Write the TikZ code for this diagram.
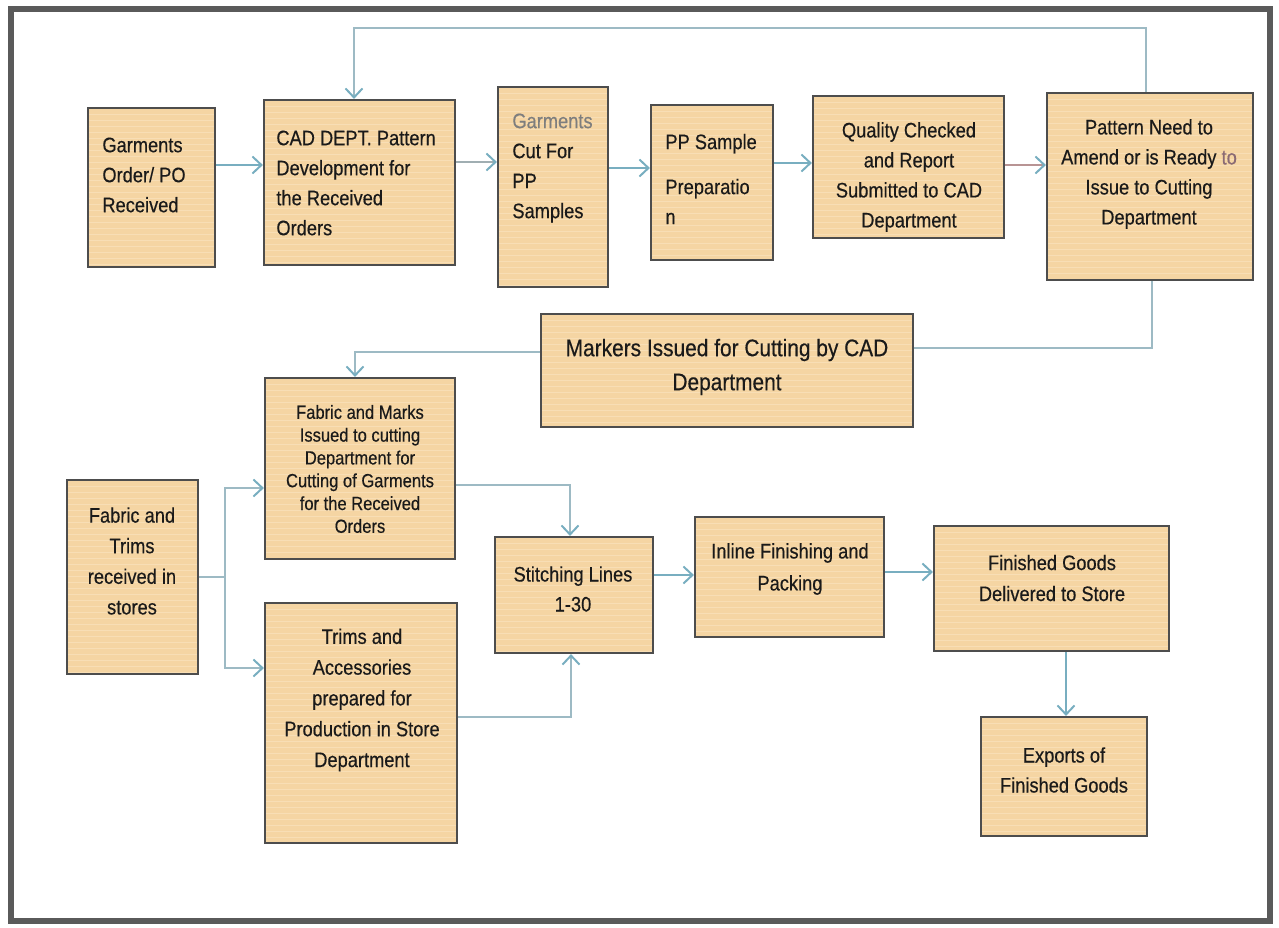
\documentclass[tikz,border=0pt]{standalone}
\usepackage{fontspec}
\setmainfont{Liberation Sans}[FakeStretch=0.87,FakeBold=0.4]
\usetikzlibrary{arrows.meta,fit}
\definecolor{boxfill}{HTML}{F5D5A3}
\definecolor{stripec}{HTML}{F8DEB5}
\definecolor{boxline}{HTML}{4D4D4D}
\definecolor{arrowc}{HTML}{78AEC0}
\definecolor{thinc}{HTML}{9DBAC4}
\definecolor{redline}{HTML}{B89494}
\definecolor{grayline}{HTML}{A0AEB2}
\definecolor{framec}{HTML}{5A5A5A}
\definecolor{txtc}{HTML}{1A1A1A}
\definecolor{toc}{HTML}{8A6A74}
\definecolor{lightgray}{HTML}{7E7E7E}
\begin{document}
\begin{tikzpicture}[x=0.5pt,y=-0.5pt,
  box/.style={draw=boxline, line width=1.1pt, fill=boxfill, inner sep=0pt,
    path picture={\foreach \k in {0,2,...,160}{\draw[stripec, line width=0.3pt]
      ([yshift=-\k*1.5pt]path picture bounding box.north west) -- ([yshift=-\k*1.5pt]path picture bounding box.north east);}}},
  txt/.style={inner sep=0pt, text=txtc, font=\fontsize{10.5}{15}\selectfont},
  arr/.style={draw=arrowc, line width=1pt, -{Straight Barb[length=4.5pt,width=8.5pt,color=arrowc]}},
  thinline/.style={draw=thinc, line width=0.6pt},
  thinarr/.style={draw=thinc, line width=0.6pt, -{Straight Barb[length=4.5pt,width=8.5pt,color=arrowc,line width=1pt]}},
]
\useasboundingbox (0,0) rectangle (1279,927);
% outer frame
\draw[framec, line width=2.6pt] (11,9) rectangle (1270,921);

% boxes
\node[box, fit={(88,108) (215,267)}] (b1) {};
\node[box, fit={(264,100) (455,265)}] (b2) {};
\node[box, fit={(498,87) (608,287)}] (b3) {};
\node[box, fit={(651,105) (773,260)}] (b4) {};
\node[box, fit={(813,96) (1004,238)}] (b5) {};
\node[box, fit={(1047,93) (1253,280)}] (b6) {};
\node[box, fit={(541,314) (913,427)}] (b7) {};
\node[box, fit={(265,378) (455,559)}] (b8) {};
\node[box, fit={(67,480) (198,674)}] (b9) {};
\node[box, fit={(265,603) (457,843)}] (b10) {};
\node[box, fit={(495,537) (653,653)}] (b11) {};
\node[box, fit={(695,517) (884,637)}] (b12) {};
\node[box, fit={(934,526) (1169,651)}] (b13) {};
\node[box, fit={(981,717) (1147,836)}] (b14) {};

% texts
\node[txt, anchor=west, align=left] (t1) at (102,175) {Garments\\Order/ PO\\Received};
\node[txt, anchor=west, align=left] (t2) at (276,183) {CAD DEPT. Pattern\\Development for\\the Received\\Orders};
\node[txt, anchor=west, align=left] (t3) at (512,168) {\textcolor{lightgray}{Garments}\\Cut For\\PP\\Samples};
\node[txt, anchor=west, align=left] (t4) at (665,179) {PP Sample\\[7.5pt]Preparatio\\n};
\node[txt, align=center] (t5) at (909,177) {Quality Checked\\and Report\\Submitted to CAD\\Department};
\node[txt, align=center] (t6) at (1149,174) {Pattern Need to\\Amend or is Ready \textcolor{toc}{to}\\Issue to Cutting\\Department};
\node[txt, align=center, font=\fontsize{12}{17}\selectfont] (t7) at (727,367) {Markers Issued for Cutting by CAD\\Department};
\node[txt, align=center, font=\fontsize{9.5}{11.4}\selectfont] (t8) at (360,469) {Fabric and Marks\\Issued to cutting\\Department for\\Cutting of Garments\\for the Received\\Orders};
\node[txt, align=center, font=\fontsize{10.5}{15.3}\selectfont] (t9) at (132,561) {Fabric and\\Trims\\received in\\stores};
\node[txt, align=center, font=\fontsize{10.5}{15.4}\selectfont] (t10) at (362,700) {Trims and\\Accessories\\prepared for\\Production in Store\\Department};
\node[txt, align=center] (t11) at (573,589) {Stitching Lines\\1-30};
\node[txt, align=center, font=\fontsize{10.5}{16}\selectfont] (t12) at (790,569) {Inline Finishing and\\Packing};
\node[txt, align=center, font=\fontsize{10.5}{15.5}\selectfont] (t13) at (1052,578) {Finished Goods\\Delivered to Store};
\node[txt, align=center] (t14) at (1064,770) {Exports of\\Finished Goods};

% connectors, top row
\draw[arr] (b1.east |- 0,165) -- (b2.west |- 0,165);
\draw[arr, draw=grayline] (b2.east |- 0,162) -- (b3.west |- 0,162);
\draw[arr] (b3.east |- 0,168) -- (b4.west |- 0,168);
\draw[arr] (b4.east |- 0,163) -- (b5.west |- 0,163);
\draw[arr, draw=redline] (b5.east |- 0,165) -- (b6.west |- 0,165);

% feedback loop
\coordinate (fbtop) at (354,28);
\draw[thinarr] (1146,0 |- b6.north) |- (fbtop) -- (354,0 |- b2.north);

% pattern -> markers
\draw[thinline] (1152,0 |- b6.south) |- (b7.east |- 0,348);
% markers -> fabric and marks
\draw[thinarr] (b7.west |- 0,352) -| (355,0 |- b8.north);

% fabric and trims split
\coordinate (jn) at (225,577);
\draw[thinline, line width=0.8pt] (b9.east |- jn) -- (jn);
\draw[thinarr, line width=0.8pt] (jn) |- (b8.west |- 0,488);
\draw[thinarr, line width=0.8pt] (jn) |- (b10.west |- 0,668);

% into stitching
\draw[thinarr, line width=0.8pt] (b8.east |- 0,485) -| (570,0 |- b11.north);
\draw[thinarr, line width=0.8pt] (b10.east |- 0,717) -| (571,0 |- b11.south);

% bottom row
\draw[arr] (b11.east |- 0,575) -- (b12.west |- 0,575);
\draw[arr] (b12.east |- 0,572) -- (b13.west |- 0,572);
\draw[arr] (1066,0 |- b13.south) -- (1066,0 |- b14.north);
\end{tikzpicture}
\end{document}
